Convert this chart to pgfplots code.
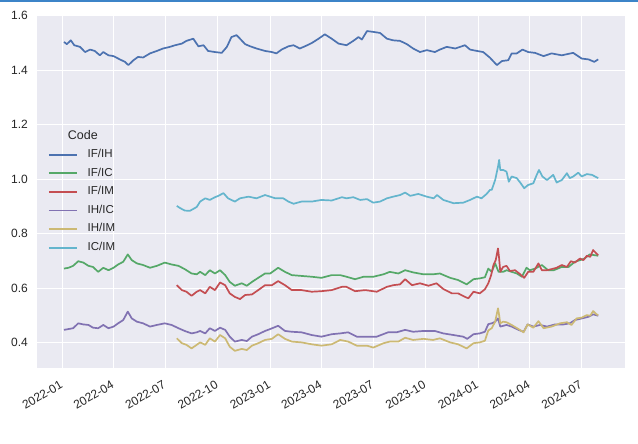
\documentclass[border=0pt]{standalone}
\usepackage{fontspec}
\setmainfont{Liberation Sans}
\usepackage{pgfplots}
\usepackage{pgfplotstable}
\pgfplotsset{compat=1.18}
\definecolor{sbblue}{HTML}{4C72B0}
\definecolor{sbgreen}{HTML}{55A868}
\definecolor{sbred}{HTML}{C44E52}
\definecolor{sbpurple}{HTML}{8172B2}
\definecolor{sbyellow}{HTML}{CCB974}
\definecolor{sbcyan}{HTML}{64B5CD}
\definecolor{axbg}{HTML}{EAEAF2}
\definecolor{txt}{HTML}{262626}
\definecolor{topbar}{HTML}{3C84C8}

% x = days since 2022-01-01
\pgfplotstableread{
d v
3 1.504
8 1.496
15 1.51
21 1.492
31 1.486
40 1.467
49 1.476
57 1.471
66 1.455
72 1.467
81 1.455
90 1.452
101 1.44
110 1.431
116 1.419
125 1.437
133 1.449
142 1.447
154 1.462
166 1.471
177 1.48
189 1.486
198 1.492
210 1.498
218 1.508
230 1.516
239 1.488
248 1.492
256 1.471
268 1.467
280 1.464
289 1.486
297 1.522
306 1.529
312 1.516
321 1.496
330 1.488
341 1.48
356 1.471
368 1.467
376 1.462
385 1.476
397 1.488
406 1.492
417 1.48
426 1.488
438 1.50
450 1.516
461 1.532
473 1.516
485 1.498
499 1.492
511 1.508
520 1.522
526 1.513
535 1.544
546 1.541
558 1.537
570 1.516
581 1.51
593 1.508
605 1.496
616 1.48
628 1.467
640 1.474
654 1.467
663 1.476
675 1.486
690 1.48
707 1.492
716 1.476
728 1.471
739 1.467
751 1.446
763 1.419
772 1.434
783 1.437
789 1.462
798 1.462
808 1.476
818 1.467
830 1.464
845 1.452
859 1.462
877 1.455
897 1.464
912 1.443
924 1.44
934 1.431
941 1.44
}\tIFIH

\pgfplotstableread{
d v
3 0.672
11 0.675
19 0.682
28 0.699
37 0.694
46 0.682
54 0.678
63 0.66
72 0.675
81 0.666
90 0.675
98 0.687
107 0.697
115 0.724
122 0.703
131 0.691
142 0.685
154 0.675
166 0.682
180 0.694
192 0.687
204 0.682
215 0.67
227 0.654
236 0.651
242 0.66
251 0.648
259 0.666
268 0.654
277 0.666
286 0.648
294 0.623
303 0.609
315 0.618
324 0.609
333 0.623
344 0.638
356 0.654
365 0.654
379 0.675
391 0.66
403 0.648
420 0.645
438 0.642
455 0.638
473 0.648
488 0.648
499 0.642
514 0.633
529 0.642
546 0.642
564 0.651
575 0.66
590 0.654
602 0.666
616 0.658
634 0.651
651 0.651
663 0.654
681 0.638
695 0.63
710 0.614
722 0.633
733 0.636
742 0.64
748 0.672
754 0.66
760 0.691
766 0.66
774 0.66
780 0.666
789 0.66
798 0.654
807 0.642
815 0.675
821 0.666
830 0.672
842 0.685
853 0.666
863 0.666
877 0.678
889 0.678
900 0.697
909 0.703
917 0.709
926 0.724
935 0.721
941 0.719
}\tIFIC

\pgfplotstableread{
d v
201 0.611
210 0.593
218 0.587
227 0.572
236 0.587
242 0.593
251 0.581
259 0.605
268 0.593
277 0.621
286 0.611
294 0.581
303 0.568
312 0.56
321 0.575
333 0.577
344 0.593
356 0.611
368 0.611
379 0.626
391 0.611
403 0.593
420 0.593
438 0.587
455 0.589
473 0.593
491 0.605
499 0.605
514 0.589
532 0.593
552 0.587
570 0.605
581 0.611
593 0.614
602 0.633
614 0.611
628 0.618
643 0.609
657 0.618
669 0.597
684 0.581
695 0.581
707 0.568
713 0.563
722 0.587
733 0.581
742 0.596
748 0.618
753 0.648
757 0.685
761 0.703
765 0.746
767 0.709
769 0.66
774 0.678
780 0.682
786 0.663
795 0.666
804 0.651
811 0.638
818 0.66
827 0.66
836 0.691
842 0.666
851 0.666
859 0.67
868 0.675
877 0.685
886 0.678
893 0.699
900 0.694
909 0.709
915 0.703
921 0.719
927 0.715
932 0.74
938 0.727
941 0.721
}\tIFIM

\pgfplotstableread{
d v
3 0.447
11 0.45
19 0.453
28 0.471
37 0.467
46 0.465
54 0.455
63 0.453
72 0.465
81 0.453
90 0.459
98 0.471
107 0.483
115 0.514
122 0.489
131 0.477
142 0.471
154 0.459
166 0.465
180 0.471
192 0.465
204 0.453
215 0.443
227 0.434
236 0.438
242 0.443
251 0.434
259 0.453
268 0.443
277 0.455
286 0.447
294 0.422
303 0.404
315 0.41
324 0.406
333 0.422
344 0.431
356 0.443
365 0.45
379 0.462
391 0.443
403 0.44
420 0.438
438 0.428
455 0.422
473 0.431
488 0.434
502 0.438
517 0.422
535 0.422
552 0.422
572 0.438
587 0.438
602 0.447
616 0.44
634 0.443
654 0.443
669 0.434
687 0.428
704 0.422
711 0.414
722 0.431
733 0.434
742 0.44
748 0.468
754 0.471
760 0.477
765 0.489
769 0.459
780 0.465
789 0.459
801 0.447
810 0.44
817 0.467
827 0.459
839 0.465
851 0.459
865 0.467
880 0.467
891 0.471
900 0.483
912 0.489
924 0.495
932 0.504
941 0.499
}\tIHIC

\pgfplotstableread{
d v
201 0.416
210 0.398
218 0.392
227 0.379
236 0.392
242 0.401
251 0.392
259 0.416
268 0.404
277 0.428
286 0.416
294 0.385
303 0.37
315 0.377
324 0.373
333 0.389
344 0.398
356 0.41
368 0.414
379 0.431
391 0.414
403 0.404
420 0.401
438 0.394
455 0.389
473 0.394
488 0.41
502 0.404
517 0.389
535 0.389
546 0.382
564 0.398
575 0.404
590 0.404
602 0.418
616 0.41
634 0.414
651 0.41
663 0.416
681 0.401
695 0.394
710 0.379
722 0.398
733 0.401
742 0.407
748 0.445
754 0.453
760 0.477
765 0.526
767 0.501
769 0.471
774 0.477
780 0.475
789 0.465
801 0.45
810 0.438
817 0.467
827 0.455
836 0.479
845 0.453
859 0.459
874 0.471
886 0.475
894 0.465
903 0.489
912 0.492
921 0.501
927 0.499
932 0.516
938 0.504
941 0.501
}\tIHIM

\pgfplotstableread{
d v
201 0.902
207 0.894
215 0.885
224 0.884
236 0.898
242 0.918
251 0.93
259 0.924
268 0.934
274 0.939
283 0.949
291 0.93
303 0.918
312 0.93
327 0.936
341 0.93
356 0.942
374 0.93
388 0.93
397 0.918
406 0.91
420 0.918
438 0.918
455 0.924
473 0.922
491 0.934
499 0.93
511 0.934
523 0.924
535 0.927
546 0.914
558 0.918
570 0.93
581 0.936
593 0.942
602 0.951
611 0.939
625 0.946
640 0.936
652 0.93
658 0.942
669 0.924
687 0.912
704 0.914
716 0.924
728 0.936
736 0.93
745 0.946
751 0.961
754 0.961
760 0.997
765 1.046
767 1.071
769 1.034
774 1.034
780 1.028
784 0.991
789 1.01
798 1.004
805 0.985
811 0.967
818 0.979
827 0.985
833 1.016
837 1.034
843 1.01
851 0.997
862 1.016
868 0.988
877 0.997
886 1.022
891 1.004
897 1.01
906 1.024
912 1.01
921 1.019
930 1.016
941 1.004
}\tICIM

\begin{document}
\begin{tikzpicture}
\fill[white] (-37pt,-76pt) rectangle (601pt,368pt);
\fill[topbar] (-37pt,366pt) rectangle (601pt,368pt);
\begin{axis}[
  at={(0pt,0pt)}, anchor=south west,
  scale only axis, width=588pt, height=353pt,
  xmin=-44.4, xmax=988, ymin=0.307, ymax=1.603,
  axis background/.style={fill=axbg},
  axis line style={draw=none},
  major tick length=0pt,
  grid=major,
  major grid style={white, line width=1.1pt},
  xtick={0,90,181,273,365,455,546,638,730,821,912},
  xticklabels={2022-01,2022-04,2022-07,2022-10,2023-01,2023-04,2023-07,2023-10,2024-01,2024-04,2024-07},
  ytick={0.4,0.6,0.8,1.0,1.2,1.4,1.6},
  yticklabels={0.4,0.6,0.8,1.0,1.2,1.4,1.6},
  tick label style={font=\fontsize{12}{14}\selectfont, text=txt},
  yticklabel style={inner sep=0pt, xshift=-9pt},
  xticklabel style={inner sep=0pt, xshift=-3pt, yshift=-12pt, rotate=30, anchor=north east},
  legend cell align=left,
  legend image code/.code={\draw[#1, line width=1.7pt] (0pt,0pt) -- (28pt,0pt);},
  legend style={at={(rel axis cs:0.0187,0.619)}, anchor=north west, draw=none, fill=none,
    inner sep=0pt, outer sep=0pt, row sep=8.1pt, column sep=10pt,
    font=\fontsize{11.5}{13}\selectfont, text=txt,
    nodes={inner sep=0pt, text height=8pt, text depth=2.5pt}},
]
\addplot[sbblue, line width=1.7pt, line join=round] table[x=d,y=v] {\tIFIH};
\addlegendentry{IF/IH}
\addplot[sbgreen, line width=1.7pt, line join=round] table[x=d,y=v] {\tIFIC};
\addlegendentry{IF/IC}
\addplot[sbred, line width=1.7pt, line join=round] table[x=d,y=v] {\tIFIM};
\addlegendentry{IF/IM}
\addplot[sbpurple, line width=1.7pt, line join=round] table[x=d,y=v] {\tIHIC};
\addlegendentry{IH/IC}
\addplot[sbyellow, line width=1.7pt, line join=round] table[x=d,y=v] {\tIHIM};
\addlegendentry{IH/IM}
\addplot[sbcyan, line width=1.7pt, line join=round] table[x=d,y=v] {\tICIM};
\addlegendentry{IC/IM}
\node[anchor=base, text=txt, font=\fontsize{12.5}{14}\selectfont, inner sep=0pt] at (rel axis cs:0.078,0.648) {Code};
\end{axis}
\pgfresetboundingbox
\path[use as bounding box] (-37pt,-76pt) rectangle (601pt,368pt);
\end{tikzpicture}
\end{document}
